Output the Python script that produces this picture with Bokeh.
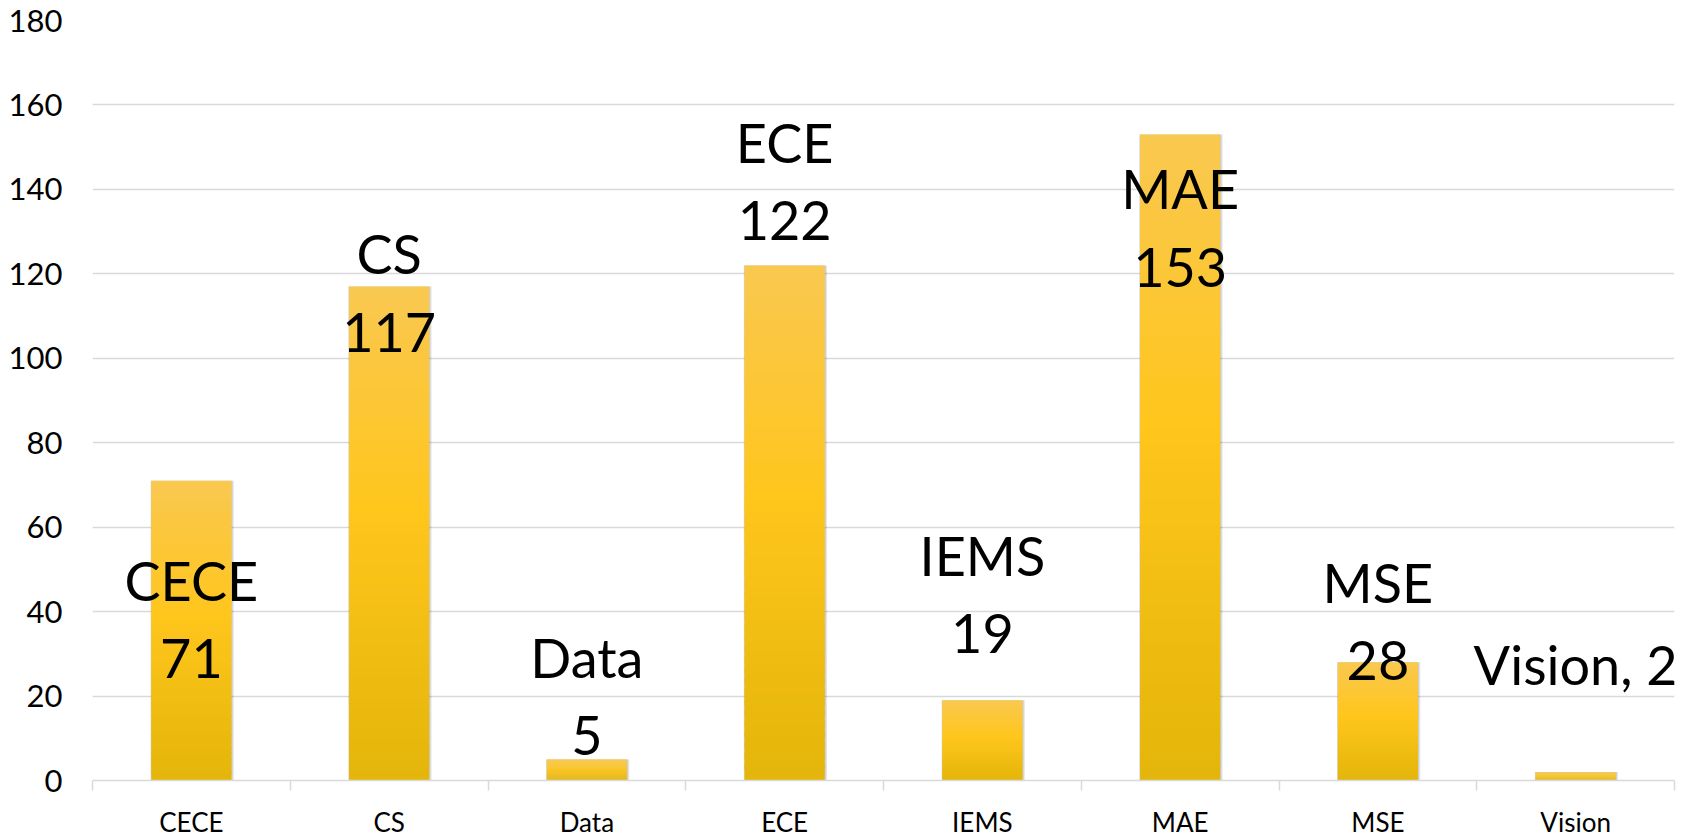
import numpy as np
from bokeh.plotting import figure
from bokeh.models import Range1d, FixedTicker, ColumnDataSource
from bokeh.core.properties import value
from bokeh.embed import file_html
from bokeh.resources import INLINE

# ---- data ----
categories = ["CECE", "CS", "Data", "ECE", "IEMS", "MAE", "MSE", "Vision"]
counts = [71, 117, 5, 122, 19, 153, 28, 2]
y_ticks = [0, 20, 40, 60, 80, 100, 120, 140, 160, 180]

# ---- label layout (baseline of the value line, in data units) ----
label_baseline = [28.9, 106.2, 10.7, 132.7, 34.8, 121.6, 28.4, 27.4]
label_single_line = [False, False, False, False, False, False, False, True]
line_gap = 18.5  # data units between the two label lines

FONT = "Lato"
BAR_W = 0.405
N_SLICES = 48

xs = np.arange(len(categories)) + 0.5
vals = np.array(counts, dtype=float)

p = figure(width=1699, height=840, output_backend="svg", toolbar_location=None,
           x_range=Range1d(0, len(categories)), y_range=Range1d(0, 180),
           min_border_left=92, min_border_right=25, min_border_top=20,
           min_border_bottom=57)
p.outline_line_color = None
p.background_fill_color = "white"
p.border_fill_color = "white"

# grid
p.xgrid.grid_line_color = None
p.ygrid.grid_line_color = "#D9D9D9"
p.ygrid.grid_line_width = 1.5
p.ygrid.ticker = FixedTicker(ticks=y_ticks)

# y axis
p.yaxis.ticker = FixedTicker(ticks=y_ticks)
p.yaxis.axis_line_color = None
p.yaxis.major_tick_line_color = None
p.yaxis.major_tick_out = 0
p.yaxis.major_tick_in = 0
p.yaxis.minor_tick_line_color = None
p.yaxis.minor_tick_out = 0
p.yaxis.major_label_standoff = 30
p.yaxis.major_label_text_font = FONT
p.yaxis.major_label_text_font_size = "31px"
p.yaxis.major_label_text_color = "#000000"

# x axis: labels at category centres, tick marks at category boundaries
p.xaxis.ticker = FixedTicker(ticks=list(xs), minor_ticks=list(range(len(categories) + 1)))
p.xaxis.major_label_overrides = {float(x): c for x, c in zip(xs, categories)}
p.xaxis.axis_line_color = "#D9D9D9"
p.xaxis.axis_line_width = 1.5
p.xaxis.major_tick_line_color = None
p.xaxis.major_tick_out = 0
p.xaxis.major_tick_in = 0
p.xaxis.minor_tick_line_color = "#D9D9D9"
p.xaxis.minor_tick_line_width = 1.5
p.xaxis.minor_tick_in = 0
p.xaxis.minor_tick_out = 10
p.xaxis.major_label_standoff = 15
p.xaxis.major_label_text_font = FONT
p.xaxis.major_label_text_font_size = "26px"
p.xaxis.major_label_text_color = "#000000"

# soft shadow behind bars
p.vbar(x=xs + 0.004, top=vals, bottom=0, width=BAR_W + 0.016,
       fill_color="#000000", fill_alpha=0.10, line_color=None)
p.vbar(x=xs + 0.002, top=vals, bottom=0, width=BAR_W + 0.008,
       fill_color="#000000", fill_alpha=0.10, line_color=None)

# gradient bars (top light, middle bright, bottom darker)
stops_t = [0.0, 0.45, 1.0]
stops_rgb = np.array([[249, 200, 80], [255, 198, 28], [227, 181, 10]], dtype=float)

def grad(t):
    r = np.interp(t, stops_t, stops_rgb[:, 0])
    g = np.interp(t, stops_t, stops_rgb[:, 1])
    b = np.interp(t, stops_t, stops_rgb[:, 2])
    return "#%02x%02x%02x" % (int(round(r)), int(round(g)), int(round(b)))

gx, gb, gt, gc = [], [], [], []
for k in range(N_SLICES):
    frac_b = k / N_SLICES
    frac_t = min((k + 1.6) / N_SLICES, 1.0)
    col = grad(1.0 - (k + 0.5) / N_SLICES)
    for x, v in zip(xs, vals):
        gx.append(x)
        gb.append(v * frac_b)
        gt.append(v * frac_t)
        gc.append(col)
p.vbar(x="x", top="top", bottom="bottom", width=BAR_W, fill_color="color",
       line_color=None, source=ColumnDataSource(dict(x=gx, top=gt, bottom=gb, color=gc)))

# data labels
line1, line2, y1, y2 = [], [], [], []
for c, v, yb, single in zip(categories, counts, label_baseline, label_single_line):
    if single:
        line1.append("")
        line2.append(f"{c}, {v}")
    else:
        line1.append(c)
        line2.append(str(v))
    y1.append(yb + line_gap)
    y2.append(yb)

lab = ColumnDataSource(dict(x=xs, y1=y1, y2=y2, t1=line1, t2=line2))
for ycol, tcol in (("y1", "t1"), ("y2", "t2")):
    p.text(x="x", y=ycol, text=tcol, source=lab, text_align="center",
           text_baseline="alphabetic", text_font=value(FONT),
           text_font_size="54px", text_color="#000000")

open("out.html", "w").write(file_html(p, INLINE))
